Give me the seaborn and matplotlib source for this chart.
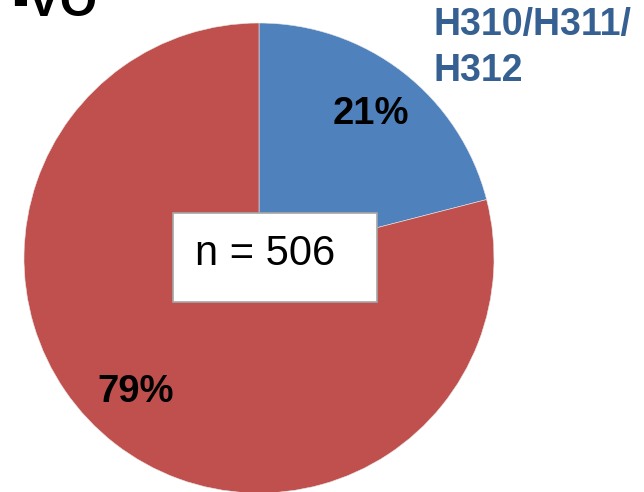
import matplotlib
matplotlib.use("Agg")
import matplotlib.pyplot as plt
import seaborn as sns
import numpy as np
from matplotlib.patches import Rectangle

# ---- data ----
categories = ["H310/H311/\nH312", "other"]
shares = [21, 79]
pct_labels = ["21%", "79%"]
sample_label = "n = 506"
title_fragment = "-VO"

colors = ["#4F81BD", "#C0504D"]
label_color = "#376092"

sns.set_theme(style="white")
plt.rcParams["font.family"] = ["Liberation Sans", "DejaVu Sans"]

W, H = 644, 492
fig = plt.figure(figsize=(W / 100, H / 100), dpi=100)
fig.patch.set_facecolor("white")

cx, cy, r = 259, 258, 235  # pixels from top-left
ax = fig.add_axes([(cx - r) / W, (H - cy - r) / H, 2 * r / W, 2 * r / H])
wedges, _ = ax.pie(shares, colors=colors, startangle=90, counterclock=False,
                   radius=1.0, wedgeprops=dict(linewidth=0.4, edgecolor="#E8E8E8"))
ax.set_xlim(-1, 1)
ax.set_ylim(-1, 1)
ax.set_aspect("equal")
ax.axis("off")

# percentage labels
label_r = 0.775
angles = []
start = 90.0
for s in shares:
    span = 360.0 * s / sum(shares)
    angles.append(start - span / 2)
    start -= span
angles[1] = -132.5  # label position as in the reference
for lab, a in zip(pct_labels, angles):
    t = np.deg2rad(a)
    ax.text(label_r * np.cos(t), label_r * np.sin(t), lab, ha="center", va="center",
            fontsize=27.5, fontweight="bold", color="black")

# category label
fig.text(433 / W, 1 - 7 / H, categories[0], ha="left", va="top", fontsize=27,
         fontweight="bold", color=label_color, linespacing=1.35)

# title fragment (clipped at top, as in the reference)
fig.text(97 / W, 1 - 16 / H, title_fragment, ha="right", va="baseline",
         fontsize=34.5, fontweight="bold", color="black")

# n box
bx0, by0, bx1, by1 = 173, 213, 377, 302
fig.patches.append(Rectangle((bx0 / W, 1 - by1 / H), (bx1 - bx0) / W, (by1 - by0) / H,
                             transform=fig.transFigure, facecolor="white",
                             edgecolor="#A6A6A6", linewidth=1.2, zorder=5))
fig.text(195 / W, 1 - 265 / H, sample_label, ha="left", va="baseline", fontsize=30,
         color="black", zorder=6)

fig.savefig("out.png", dpi=100, facecolor="white")
